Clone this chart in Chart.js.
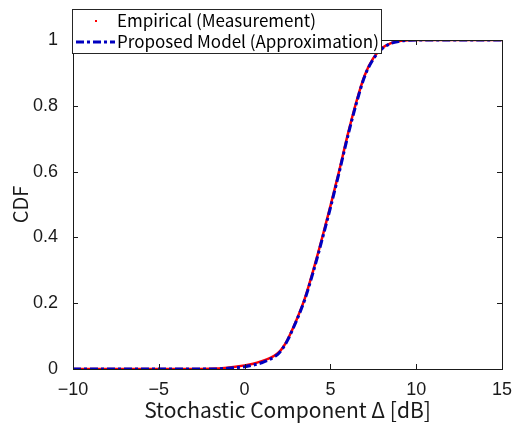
<!DOCTYPE html>
<html>
<head>
<meta charset="utf-8">
<script src="https://cdn.jsdelivr.net/npm/chart.js@4"></script>
<style>
  html, body { margin: 0; padding: 0; background: #fff; }
  #cdf { display: block; }
</style>
</head>
<body>
<canvas id="cdf" width="517" height="423"></canvas>
<script>
// values
const deltaDb = [-10, -5, -2, -1, 0, 0.5, 1, 1.5, 1.75, 2, 2.25, 2.5, 3, 3.5, 4, 4.5, 5, 5.5, 6, 6.5, 7, 7.5, 8, 8.5, 9, 9.5, 10, 11, 15];
const empiricalCdf = [0, 0, 0.001, 0.004, 0.011, 0.016, 0.024, 0.034, 0.041, 0.051, 0.067, 0.089, 0.146, 0.213, 0.3, 0.395, 0.495, 0.6, 0.71, 0.81, 0.893, 0.945, 0.975, 0.99, 0.997, 0.999, 1, 1, 1];
const modelCdf = [0, 0, 0, 0.002, 0.007, 0.012, 0.019, 0.03, 0.038, 0.048, 0.065, 0.087, 0.144, 0.21, 0.295, 0.39, 0.49, 0.595, 0.705, 0.805, 0.89, 0.942, 0.973, 0.989, 0.996, 0.999, 1, 1, 1];
const xTicks = [-10, -5, 0, 5, 10, 15];
const yTicks = [0, 0.2, 0.4, 0.6, 0.8, 1];
const seriesNames = ['Empirical (Measurement)', 'Proposed Model (Approximation)'];

const AXIS = '#1a1a1a';
const JP = '"Noto Sans CJK JP", "Noto Sans", sans-serif';
const NUM = '"Liberation Sans", Arial, sans-serif';
const BLUE = '#0000c0';
const DASH = [8, 3, 3, 3];

const toPoints = (xs, ys) => xs.map((x, i) => ({ x: x, y: ys[i] }));

// frame, inward ticks on all four sides and the legend box (MATLAB look)
const matlabAxes = {
  id: 'matlabAxes',
  afterDatasetsDraw(chart) {
    const { ctx, chartArea: a, scales } = chart;
    ctx.save();
    ctx.strokeStyle = AXIS;
    ctx.lineWidth = 1;
    ctx.strokeRect(a.left + 0.5, a.top + 0.5, a.right - a.left, a.bottom - a.top);
    ctx.beginPath();
    xTicks.forEach(v => {
      const px = Math.round(scales.x.getPixelForValue(v)) + 0.5;
      ctx.moveTo(px, a.bottom); ctx.lineTo(px, a.bottom - 5);
      ctx.moveTo(px, a.top); ctx.lineTo(px, a.top + 5);
    });
    yTicks.forEach(v => {
      const py = Math.round(scales.y.getPixelForValue(v)) + 0.5;
      ctx.moveTo(a.left, py); ctx.lineTo(a.left + 5, py);
      ctx.moveTo(a.right, py); ctx.lineTo(a.right - 5, py);
    });
    ctx.stroke();

    // legend
    const bx = 72.5, by = 9.5, bw = 309, bh = 44;
    ctx.fillStyle = '#fff';
    ctx.fillRect(bx, by, bw, bh);
    ctx.strokeStyle = '#262626';
    ctx.strokeRect(bx, by, bw, bh);
    ctx.font = '17px ' + JP;
    ctx.fillStyle = '#000';
    ctx.textBaseline = 'middle';
    ctx.fillText(seriesNames[0], 117, 21);
    ctx.fillText(seriesNames[1], 117, 42);
    ctx.fillStyle = '#ff0000';
    ctx.fillRect(95, 20, 2, 2);
    ctx.strokeStyle = BLUE;
    ctx.lineWidth = 3;
    ctx.setLineDash(DASH);
    ctx.beginPath();
    ctx.moveTo(76, 42); ctx.lineTo(115, 42);
    ctx.stroke();
    ctx.restore();
  }
};

new Chart(document.getElementById('cdf').getContext('2d'), {
  type: 'scatter',
  data: {
    datasets: [
      {
        label: seriesNames[1],
        data: toPoints(deltaDb, modelCdf),
        showLine: true,
        borderColor: BLUE,
        borderWidth: 3,
        borderDash: DASH,
        pointRadius: 0,
        cubicInterpolationMode: 'monotone',
        order: 0
      },
      {
        label: seriesNames[0],
        data: toPoints(deltaDb, empiricalCdf),
        showLine: true,
        borderColor: '#ff0000',
        borderWidth: 2.5,
        pointRadius: 0,
        cubicInterpolationMode: 'monotone',
        order: 1
      }
    ]
  },
  options: {
    responsive: false,
    animation: false,
    layout: { padding: { top: 40, right: 15, left: 0, bottom: 0 } },
    plugins: { legend: { display: false }, tooltip: { enabled: false } },
    scales: {
      x: {
        type: 'linear', min: -10, max: 15,
        afterBuildTicks: s => { s.ticks = xTicks.map(v => ({ value: v })); },
        afterFit: s => { s.height = 54; },
        grid: { display: false },
        border: { display: false },
        ticks: {
          color: AXIS, padding: 2,
          font: { family: NUM, size: 18 },
          callback: v => String(v).replace('-', '\u2212')
        },
        title: {
          display: true, text: 'Stochastic Component \u0394 [dB]', color: AXIS,
          font: { family: JP, size: 21 }, padding: { top: 0, bottom: 0 }
        }
      },
      y: {
        type: 'linear', min: 0, max: 1,
        afterBuildTicks: s => { s.ticks = yTicks.map(v => ({ value: v })); },
        afterFit: s => { s.width = 73; },
        grid: { display: false },
        border: { display: false },
        ticks: {
          color: AXIS, padding: 7,
          font: { family: NUM, size: 18 },
          callback: v => String(v)
        },
        title: {
          display: true, text: 'CDF', color: AXIS,
          font: { family: JP, size: 20 }, padding: { top: 8, bottom: 4 }
        }
      }
    }
  },
  plugins: [matlabAxes]
});
</script>
</body>
</html>
